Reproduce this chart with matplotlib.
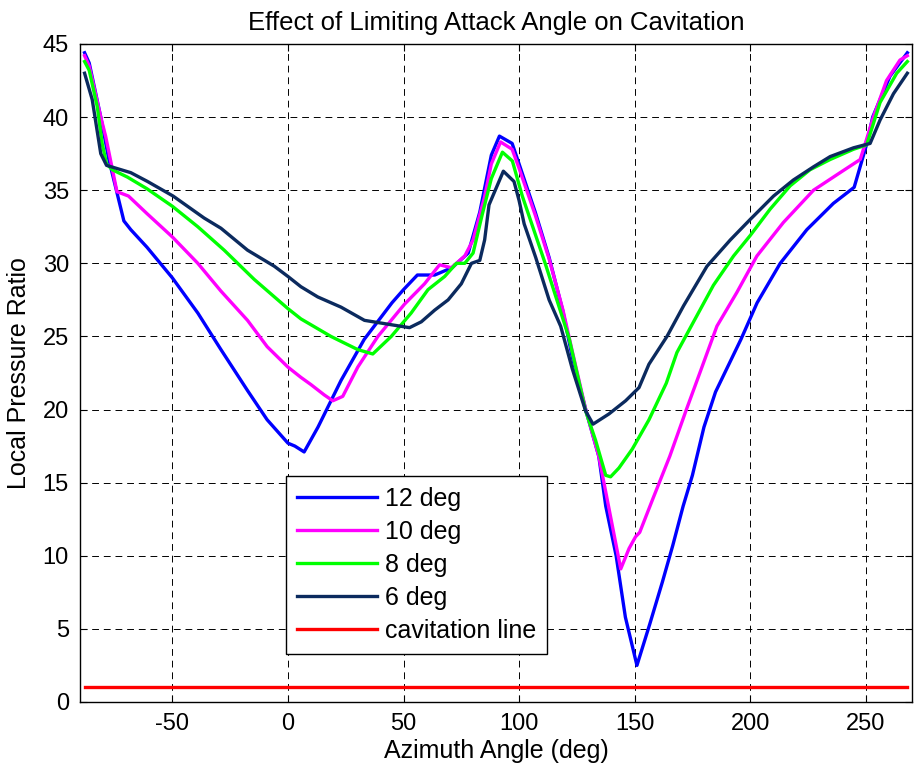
import matplotlib
matplotlib.use('Agg')
import matplotlib.pyplot as plt

plt.rcParams['font.family'] = ['Liberation Sans', 'DejaVu Sans']
plt.rcParams['axes.unicode_minus'] = False

# local pressure ratio vs azimuth for each attack-angle limit
x12 = [-88, -86, -81, -77.5, -71, -68, -61, -50, -39, -29, -17.5, -9, 0, 3, 7, 13, 23, 33, 45, 50, 56,
       63.5, 71, 78, 83, 88, 91.5, 97, 100, 107, 113, 119, 123, 129, 134.5, 137.5, 142, 146, 151, 156.5,
       162, 166.5, 171, 175, 180, 185, 196, 203, 213, 224.5, 236, 245, 250.5, 253, 260.5, 268]
y12 = [44.4, 43.7, 40.0, 37.1, 32.9, 32.3, 31.1, 29.0, 26.6, 24.1, 21.3, 19.3, 17.7, 17.5, 17.1, 18.8,
       22.0, 24.8, 27.3, 28.2, 29.2, 29.2, 29.7, 30.7, 33.5, 37.4, 38.7, 38.2, 36.8, 33.5, 30.4, 26.7,
       23.6, 19.9, 16.8, 13.4, 10.0, 5.8, 2.5, 5.3, 8.2, 10.7, 13.4, 15.5, 18.8, 21.2, 24.8, 27.3, 30.0,
       32.3, 34.1, 35.2, 38.2, 40.0, 42.8, 44.4]

x10 = [-88, -86, -81, -78.9, -74, -69, -61, -50, -39, -29, -17.5, -9, 0, 5.6, 10, 15.7, 19.4, 23.7, 30.2,
       38.9, 50.4, 59.1, 65.6, 70.7, 76.5, 80.1, 85, 88, 92, 97, 100, 107, 113, 119, 123, 129, 134.5, 144,
       147.6, 150.4, 152.2, 157.9, 165.2, 172.4, 178.2, 185.6, 194.2, 202.9, 214.4, 227.4, 238.9, 247.6,
       250.4, 253.3, 259, 264.8, 268]
y10 = [44.2, 43.5, 40.0, 38.7, 34.9, 34.6, 33.4, 31.8, 30.0, 28.1, 26.1, 24.3, 22.9, 22.2, 21.7, 21.0,
       20.6, 20.9, 22.9, 25.0, 27.2, 28.6, 29.9, 29.7, 30.5, 31.6, 34.5, 36.8, 38.3, 37.8, 36.5, 33.3,
       30.3, 26.8, 24.0, 19.9, 16.8, 9.1, 10.5, 11.3, 11.6, 13.9, 16.8, 20.0, 22.5, 25.7, 28.0, 30.5,
       32.8, 35.0, 36.2, 37.1, 38.5, 40.0, 42.5, 43.9, 44.2]

x8 = [-88, -86, -82.5, -80.4, -78.5, -76, -69.5, -61, -50, -39, -27.6, -14.6, 0, 5.6, 18.6, 30.2, 36.7,
      44.7, 53.3, 60.6, 67.8, 72.9, 76.5, 80.1, 84, 88, 92.8, 97.1, 101.4, 111.5, 121.6, 128.8, 133.1,
      137.5, 139.6, 143.2, 149, 156.2, 163.7, 168.3, 175.5, 184.1, 192.8, 200, 208.6, 217.3,
      225.9, 234.6, 244.7, 250.4, 256.2, 263.4, 268]
y8 = [43.8, 43.2, 40.7, 38.2, 36.8, 36.4, 35.9, 35.1, 33.9, 32.5, 30.9, 28.9, 26.9, 26.2, 25.0, 24.1,
      23.8, 25.0, 26.6, 28.2, 29.1, 30.0, 30.0, 30.7, 33.3, 35.8, 37.6, 37.0, 34.6, 29.9, 24.9, 19.9,
      17.9, 15.5, 15.4, 16.0, 17.3, 19.3, 21.8, 23.9, 26.0, 28.5, 30.5, 31.9, 33.7, 35.3, 36.4,
      37.1, 37.8, 38.1, 41.0, 43.0, 43.8]

x6 = [-88, -84.7, -81, -78.5, -68, -60.8, -49.7, -36.3, -29, -17.5, -5.9, 0, 5.6, 12.9, 23, 33.1, 44.7,
      52.6, 57.7, 63.5, 69.3, 75, 79.4, 83, 85.1, 87, 93.2, 97.8, 100, 102.2, 107.2, 113, 118, 123, 128.8,
      132, 138.9, 146.1, 151.9, 156.2, 164, 171.2, 181.3, 191.4, 200, 210.1, 218.7, 227.4, 234.6, 244.7,
      251.9, 256.2, 262, 268]
y6 = [43.0, 41.2, 37.5, 36.7, 36.2, 35.6, 34.6, 33.1, 32.4, 30.9, 29.8, 29.1, 28.4, 27.7, 27.0, 26.1,
      25.8, 25.6, 26.0, 26.8, 27.5, 28.6, 30.0, 30.2, 31.6, 34.0, 36.3, 35.6, 34.3, 32.7, 30.4, 27.5,
      25.7, 22.8, 19.9, 19.0, 19.7, 20.6, 21.5, 23.1, 25.0, 27.1, 29.8, 31.6, 33.0, 34.6, 35.7, 36.6,
      37.3, 37.9, 38.2, 39.8, 41.6, 43.0]

cav_x = [-88, 268]
cav_y = [1.0, 1.0]

fig = plt.figure(figsize=(9.17, 7.76), dpi=100)
ax = fig.add_axes([0.0872, 0.0954, 0.9073, 0.8479])

lw = 2.4
ax.plot(x12, y12, color='#0000ff', lw=lw, label='12 deg')
ax.plot(x10, y10, color='#ff00ff', lw=lw, label='10 deg')
ax.plot(x8, y8, color='#00ff00', lw=lw, label='8 deg')
ax.plot(x6, y6, color='#0b2a5e', lw=lw, label='6 deg')
ax.plot(cav_x, cav_y, color='#ff0000', lw=lw, label='cavitation line')

ax.set_xlim(-90, 270)
ax.set_ylim(0, 45)
ax.set_xticks([-50, 0, 50, 100, 150, 200, 250])
ax.set_yticks(range(0, 46, 5))

ax.grid(True, color='black', lw=0.7, linestyle=(0, (7, 5)))
ax.set_axisbelow(True)
ax.tick_params(direction='in', top=True, right=True, length=5, labelsize=17, pad=8)
for s in ax.spines.values():
    s.set_linewidth(1.0)

ax.set_title('Effect of Limiting Attack Angle on Cavitation', fontsize=18.5, pad=10)
ax.set_xlabel('Azimuth Angle (deg)', fontsize=18, labelpad=3)
ax.set_ylabel('Local Pressure Ratio', fontsize=18, labelpad=8)

leg = ax.legend(loc='upper left', bbox_to_anchor=(0.2476, 0.3435), borderaxespad=0,
                fontsize=18, handlelength=3.2, handletextpad=0.3, labelspacing=0.36,
                borderpad=0.45, fancybox=False, framealpha=1, edgecolor='black')
leg.get_frame().set_linewidth(1.0)

fig.savefig('out.png', dpi=100)
